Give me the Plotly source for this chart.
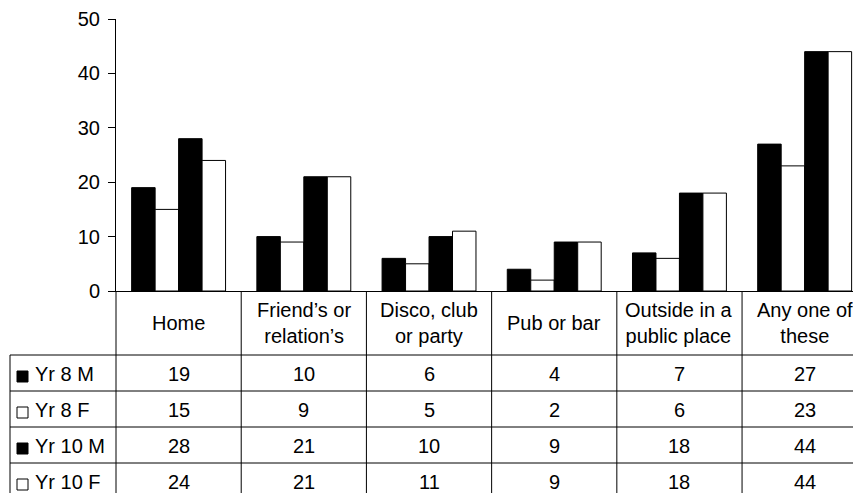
import plotly.graph_objects as go

categories = ["Home", "Friend’s or<br>relation’s", "Disco, club<br>or party",
              "Pub or bar", "Outside in a<br>public place", "Any one of<br>these"]
series_names = ["Yr 8 M", "Yr 8 F", "Yr 10 M", "Yr 10 F"]
yr8_m = [19, 10, 6, 4, 7, 27]
yr8_f = [15, 9, 5, 2, 6, 23]
yr10_m = [28, 21, 10, 9, 18, 44]
yr10_f = [24, 21, 11, 9, 18, 44]
series_values = [yr8_m, yr8_f, yr10_m, yr10_f]
y_ticks = [0, 10, 20, 30, 40, 50]

fills = ["black", "white", "black", "white"]
FONT = "Liberation Sans, Arial, sans-serif"
FS = 20

OFF = 8  # page body margin in the browser
WIN_W, WIN_H = 861, 493
W, H = WIN_W - OFF, WIN_H - OFF
PLOT_L, PLOT_T, PLOT_B = 116, 19, 291  # window pixels of plot area
L = PLOT_L - OFF
T = PLOT_T - OFF
R = 0
PH = PLOT_B - PLOT_T
B = H - T - PH
PW = W - L - R


def xp(px):
    return (px - PLOT_L) / PW


def yp(py):
    return (PLOT_B - py) / PH


fig = go.Figure()
for name, vals, col in zip(series_names, series_values, fills):
    fig.add_trace(go.Bar(
        x=categories, y=vals, name=name,
        marker=dict(color=col, line=dict(color="black", width=1)),
        showlegend=False,
    ))

shapes = []
annotations = []

# table geometry (window pixels)
header_bottom = 355
row_h = 36
left_px = 10
bottom_px = WIN_H + 20

# y axis line extension through table
shapes.append(dict(type="line", xref="paper", yref="paper",
                   x0=0, x1=0, y0=0, y1=yp(bottom_px),
                   line=dict(color="black", width=1)))
# row-header left border
shapes.append(dict(type="line", xref="paper", yref="paper",
                   x0=xp(left_px), x1=xp(left_px), y0=yp(header_bottom), y1=yp(bottom_px),
                   line=dict(color="black", width=1)))
# column boundaries
for k in range(len(categories)):
    shapes.append(dict(type="line", xref="x", yref="paper",
                       x0=k + 0.5, x1=k + 0.5, y0=0, y1=yp(bottom_px),
                       line=dict(color="black", width=1)))
# row lines
for r in range(len(series_names)):
    ypx = header_bottom + r * row_h
    shapes.append(dict(type="line", xref="paper", yref="paper",
                       x0=xp(left_px), x1=1, y0=yp(ypx), y1=yp(ypx),
                       line=dict(color="black", width=1)))

# header labels
for c in categories:
    annotations.append(dict(x=c, xref="x", y=yp(323), yref="paper",
                            text=c, showarrow=False, xanchor="center", yanchor="middle",
                            font=dict(family=FONT, size=FS, color="black")))

# rows
for r, (name, vals, col) in enumerate(zip(series_names, series_values, fills)):
    cy = header_bottom + r * row_h + row_h / 2
    # legend key square
    shapes.append(dict(type="rect", xref="paper", yref="paper",
                       x0=xp(17), x1=xp(28), y0=yp(cy - 2), y1=yp(cy + 9),
                       fillcolor=col, line=dict(color="black", width=1)))
    annotations.append(dict(x=xp(33), xref="paper", y=yp(cy + 1), yref="paper",
                            text=name, showarrow=False, xanchor="left", yanchor="middle",
                            font=dict(family=FONT, size=FS, color="black")))
    for c, v in zip(categories, vals):
        annotations.append(dict(x=c, xref="x", y=yp(cy + 1), yref="paper",
                                text=str(v), showarrow=False, xanchor="center", yanchor="middle",
                                font=dict(family=FONT, size=FS, color="black")))

fig.update_layout(
    width=W, height=H,
    margin=dict(l=L, r=R, t=T, b=B, pad=0),
    paper_bgcolor="white", plot_bgcolor="white",
    barmode="group", bargap=0.25, bargroupgap=0,
    font=dict(family=FONT, size=FS, color="black"),
    shapes=shapes, annotations=annotations,
    xaxis=dict(type="category", range=[-0.5, 5.45], showticklabels=False,
               ticks="", showgrid=False, zeroline=False,
               showline=True, linecolor="black", linewidth=1),
    yaxis=dict(range=[0, 50], tickvals=y_ticks, showgrid=False, zeroline=False,
               showline=True, linecolor="black", linewidth=1,
               ticks="outside", ticklen=7, tickcolor="black", tickwidth=1,
               ticklabelstandoff=4,
               tickfont=dict(family=FONT, size=FS, color="black")),
)

fig.write_html("out.html")
